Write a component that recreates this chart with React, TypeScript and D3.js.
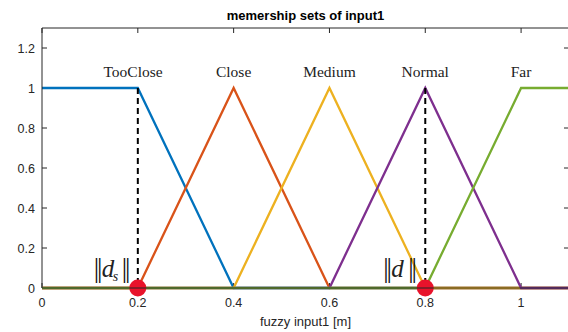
import React from "react";
import * as d3 from "d3";

// membership functions, sampled at their break points
const tooClose = [[0, 1], [0.2, 1], [0.4, 0], [1.1, 0]];
const close = [[0, 0], [0.2, 0], [0.4, 1], [0.6, 0], [1.1, 0]];
const medium = [[0, 0], [0.4, 0], [0.6, 1], [0.8, 0], [1.1, 0]];
const normal = [[0, 0], [0.6, 0], [0.8, 1], [1.0, 0], [1.1, 0]];
const far = [[0, 0], [0.8, 0], [1.0, 1], [1.1, 1]];

const seriesColors = ["#0072BD", "#D95319", "#EDB120", "#7E2F8E", "#77AC30"];
const mfNames = ["TooClose", "Close", "Medium", "Normal", "Far"];
const labelX = [0.19, 0.4, 0.6, 0.8, 1.0];
const labelY = 1.055;

const xTicks = [0, 0.2, 0.4, 0.6, 0.8, 1];
const yTicks = [0, 0.2, 0.4, 0.6, 0.8, 1, 1.2];

// crisp inputs marked with dashed lines and dots
const markers = [0.2, 0.8];

const serif = "Liberation Serif, Times New Roman, serif";
const sans = "Liberation Sans, Arial, sans-serif";

function Bars({ x, y }: { x: number; y: number }) {
  return (
    <text x={x} y={y} fontFamily={serif} fontSize={27} fill="#111" letterSpacing={-2.2}>
      ||
    </text>
  );
}

export default function App() {
  const width = 568;
  const height = 332;
  const margin = { top: 28, right: -1, bottom: 44, left: 42 };

  const x = d3.scaleLinear().domain([0, 1.1]).range([margin.left, width - margin.right]);
  const y = d3.scaleLinear().domain([0, 1.3]).range([height - margin.bottom, margin.top]);

  const line = d3
    .line<number[]>()
    .x((d) => x(d[0]))
    .y((d) => y(d[1]));

  const all = [tooClose, close, medium, normal, far];
  const axisColor = "#262626";
  const tick = 5;
  const x0 = x(0);
  const x1 = x(1.1);
  const yb = y(0);
  const yt = y(1.3);
  const nb = yb - 11; // baseline of the norm annotations

  return (
    <div style={{ position: "fixed", left: 0, top: 0, width, height, overflow: "hidden", background: "#fff" }}>
      <svg width={width} height={height} style={{ display: "block", overflow: "hidden" }}>
        <rect x={0} y={0} width={width} height={height} fill="#fff" />

        {/* ticks inward */}
        {xTicks.map((t) => (
          <g key={"xt" + t}>
            <line x1={x(t)} x2={x(t)} y1={yb} y2={yb - tick} stroke={axisColor} />
            <line x1={x(t)} x2={x(t)} y1={yt} y2={yt + tick} stroke={axisColor} />
            <text x={x(t)} y={yb + 19} textAnchor="middle" fontFamily={sans} fontSize={12.5} fill={axisColor}>
              {t}
            </text>
          </g>
        ))}
        {yTicks.map((t) => (
          <g key={"yt" + t}>
            <line x1={x0} x2={x0 + tick} y1={y(t)} y2={y(t)} stroke={axisColor} />
            <line x1={x1} x2={x1 - tick} y1={y(t)} y2={y(t)} stroke={axisColor} />
            <text x={x0 - 7} y={y(t) + 4.5} textAnchor="end" fontFamily={sans} fontSize={12.5} fill={axisColor}>
              {t}
            </text>
          </g>
        ))}

        {all.map((s, i) => (
          <path key={i} d={line(s) ?? ""} fill="none" stroke={seriesColors[i]} strokeWidth={2.3} />
        ))}

        {markers.map((m) => (
          <line
            key={"m" + m}
            x1={x(m)}
            x2={x(m)}
            y1={y(1)}
            y2={y(0)}
            stroke="#000"
            strokeWidth={2}
            strokeDasharray="6,4"
          />
        ))}

        {mfNames.map((n, i) => (
          <text key={n} x={x(labelX[i])} y={y(labelY)} textAnchor="middle" fontFamily={serif} fontSize={15.5} fill="#222">
            {n}
          </text>
        ))}

        {/* norm annotations */}
        <Bars x={x(0.2) - 44} y={nb} />
        <text x={x(0.2) - 36} y={nb} fontFamily={serif} fontSize={25} fontStyle="italic" fill="#222">
          d
        </text>
        <text x={x(0.2) - 25} y={nb + 4} fontFamily={serif} fontSize={14} fontStyle="italic" fill="#222">
          s
        </text>
        <Bars x={x(0.2) - 16} y={nb} />

        <Bars x={x(0.8) - 42} y={nb} />
        <text x={x(0.8) - 34} y={nb} fontFamily={serif} fontSize={25} fontStyle="italic" fill="#222">
          d
        </text>
        <Bars x={x(0.8) - 17} y={nb} />

        {markers.map((m) => (
          <circle key={"c" + m} cx={x(m)} cy={y(0)} r={8.5} fill="#E8132B" />
        ))}

        {/* box */}
        <line x1={x0} x2={x0} y1={yt} y2={yb} stroke={axisColor} />
        <line x1={x0} x2={x1} y1={yt} y2={yt} stroke={axisColor} />
        <line x1={x1} x2={x1} y1={yt} y2={yb} stroke={axisColor} />
        <line x1={x0} x2={x1} y1={yb} y2={yb} stroke={axisColor} />

        <text x={(x0 + x1) / 2} y={20} textAnchor="middle" fontFamily={sans} fontSize={13} fontWeight="bold" fill="#000">
          memership sets of input1
        </text>
        <text x={(x0 + x1) / 2} y={326} textAnchor="middle" fontFamily={sans} fontSize={13} fill={axisColor}>
          fuzzy input1 [m]
        </text>
      </svg>
    </div>
  );
}
